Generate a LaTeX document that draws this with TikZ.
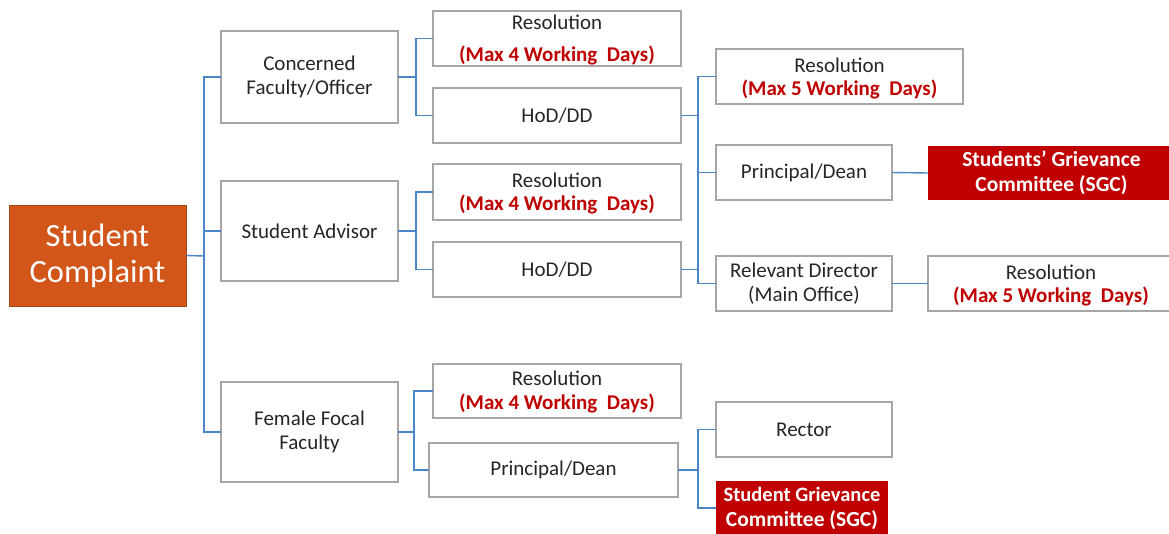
\documentclass[tikz,border=0pt]{standalone}
\usepackage{fontspec}
\setmainfont{Carlito}
\definecolor{conn}{HTML}{4A86C8}
\definecolor{bordergray}{HTML}{A6A6A6}
\definecolor{darkred}{HTML}{C00000}
\definecolor{orangefill}{HTML}{D2561A}
\definecolor{txt}{HTML}{262626}
\begin{document}
\begin{tikzpicture}[x=1pt,y=-1pt,
  box/.style={draw=bordergray,line width=1.1pt,fill=white,inner sep=0pt,outer sep=0pt,
    minimum width=#1,align=center,text=txt,font=\fontsize{21}{24}\selectfont},
  box/.default=177,
  redbox/.style={fill=darkred,inner sep=0pt,outer sep=0pt,minimum width=#1,align=center,
    text=white,font=\bfseries\fontsize{21.5}{25}\selectfont},
  lbl/.style={inner sep=0pt,text=txt,font=\fontsize{21}{24}\selectfont},
  rlbl/.style={inner sep=0pt,text=darkred,font=\bfseries\fontsize{21}{24}\selectfont},
  wire/.style={draw=conn,line width=1.4pt}]
\clip (0,0) rectangle (1169,533);
\fill[white] (0,0) rectangle (1169,533);
% level 0
\node[fill=orangefill,draw=orangefill!80!black,line width=0.6pt,minimum width=177,minimum height=101,inner sep=0pt,
  align=center,text=white,font=\fontsize{32.5}{36}\selectfont] (SC) at (97.5,255.5) {Student\\Complaint};
% level 1
\node[box,minimum height=92] (CF) at (309.5,77) {Concerned\\Faculty/Officer};
\node[box,minimum height=100] (SA) at (309.5,231) {Student Advisor};
\node[box,minimum height=100] (FF) at (309.5,432) {Female Focal\\Faculty};
% level 2
\node[box=248,minimum height=55] (R1) at (557,38.5) {};
\node[lbl] (R1a) at (557,22) {Resolution};
\node[rlbl] (R1b) at (557,55) {(Max 4 Working\ \ Days)};
\node[box=248,minimum height=55] (H1) at (557,115.5) {HoD/DD};
\node[box=248,minimum height=56] (R2) at (557,192) {};
\node[lbl] (R2a) at (557,180) {Resolution};
\node[rlbl] (R2b) at (557,204) {(Max 4 Working\ \ Days)};
\node[box=248,minimum height=55] (H2) at (557,269.5) {HoD/DD};
\node[box=248,minimum height=54] (R3) at (557,391) {};
\node[lbl] (R3a) at (557,378) {Resolution};
\node[rlbl] (R3b) at (557,403) {(Max 4 Working\ \ Days)};
\node[box=249,minimum height=54] (PD2) at (553.5,470) {Principal/Dean};
% level 3
\node[box=247,minimum height=55] (R4) at (839.5,76.5) {};
\node[lbl] (R4a) at (839.5,65) {Resolution};
\node[rlbl] (R4b) at (839.5,89) {(Max 5 Working\ \ Days)};
\node[box=176,minimum height=55] (PD1) at (804,172.5) {Principal/Dean};
\node[box=176,minimum height=55] (RD) at (804,283.5) {Relevant Director\\(Main Office)};
\node[box=176,minimum height=55] (RC) at (804,429.5) {Rector};
\node[redbox=172,minimum height=54] (SGC2) at (802,508) {\fontsize{20.5}{24}\selectfont Student Grievance\\Committee (SGC)};
% level 4
\node[redbox=247,minimum height=54] (SGC1) at (1051.5,173) {Students’ Grievance\\Committee (SGC)};
\node[box=246,minimum height=55] (R5) at (1051,283.5) {};
\node[lbl] (R5a) at (1051,272) {Resolution};
\node[rlbl] (R5b) at (1051,296) {(Max 5 Working\ \ Days)};
% connectors
\coordinate (s1) at (204,256);
\draw[wire] (SC.east) -- (s1);
\draw[wire] (CF.west) -| (s1);
\draw[wire] (FF.west) -| (s1);
\draw[wire] (SA.west) -- (SA.west -| s1);
\coordinate (c1) at (416,77);
\draw[wire] (CF.east) -- (c1);
\draw[wire] (R1.west) -| (c1);
\draw[wire] (H1.west) -| (c1);
\coordinate (c2) at (416,231);
\draw[wire] (SA.east) -- (c2);
\draw[wire] (R2.west) -| (c2);
\draw[wire] (H2.west) -| (c2);
\coordinate (c3) at (414,432);
\draw[wire] (FF.east) -- (c3);
\draw[wire] (R3.west) -| (c3);
\draw[wire] (PD2.west) -| (c3);
\coordinate (c4) at (698,115.5);
\coordinate (c5) at (698,269.5);
\draw[wire] (H1.east) -- (c4);
\draw[wire] (H2.east) -- (c5);
\draw[wire] (R4.west) -| (c4) -- (c5);
\draw[wire] (RD.west) -| (c5);
\draw[wire] (PD1.west) -- (PD1.west -| c4);
\draw[wire] (PD1.east) -- (SGC1.west);
\draw[wire] (RD.east) -- (R5.west);
\coordinate (c6) at (698,470);
\draw[wire] (PD2.east) -- (c6);
\draw[wire] (RC.west) -| (c6);
\draw[wire] (SGC2.west) -| (c6);
\end{tikzpicture}
\end{document}
